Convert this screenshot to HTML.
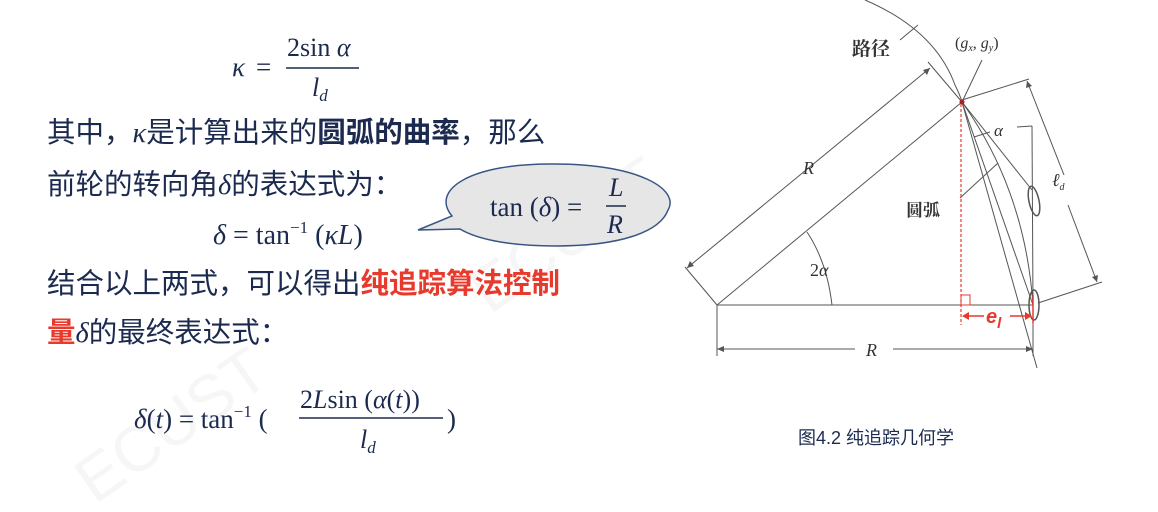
<!DOCTYPE html>
<html><head><meta charset="utf-8"><style>
html,body{margin:0;padding:0;background:#fff;}
svg{display:block;}
.t{font-family:"Liberation Sans","Noto Sans CJK SC",sans-serif;font-size:28.5px;fill:#1b2a4e;}
.m{font-family:"Liberation Serif","DejaVu Serif",serif;fill:#1b2a4e;}
.d{font-family:"Liberation Serif","Noto Serif CJK SC",serif;fill:#333;}
</style></head><body>
<svg width="1158" height="512" viewBox="0 0 1158 512" xmlns="http://www.w3.org/2000/svg">
<text x="0" y="0" transform="translate(95,505) rotate(-35)" font-family="Liberation Sans,sans-serif" font-size="64" fill="#f6f6f6">ECUST</text>
<text x="0" y="0" transform="translate(490,315) rotate(-35)" font-family="Liberation Sans,sans-serif" font-size="64" fill="#f6f6f6">ECUST</text>

<text class="m" x="232" y="76" font-size="27" font-style="italic">κ</text>
<text class="m" x="256" y="76" font-size="27">=</text>
<text class="m" x="287" y="56" font-size="26">2sin <tspan font-style="italic">α</tspan></text>
<line x1="286" y1="68" x2="359" y2="68" stroke="#1b2a4e" stroke-width="1.5"/>
<text class="m" x="312" y="96" font-size="26" font-style="italic">l<tspan font-size="17" dy="5">d</tspan></text>

<text class="t" x="47" y="142">其中，<tspan class="m" font-style="italic">κ</tspan>是计算出来的<tspan font-weight="bold">圆弧的曲率</tspan>，那么</text>
<text class="t" x="47" y="194">前轮的转向角<tspan class="m" font-style="italic">δ</tspan>的表达式为：</text>
<text class="m" x="213" y="244" font-size="28"><tspan font-style="italic">δ</tspan> = tan<tspan font-size="17" dy="-11">−1</tspan><tspan dy="11"> (</tspan><tspan font-style="italic">κL</tspan>)</text>
<text class="t" x="47" y="293">结合以上两式，可以得出<tspan fill="#e8392d" font-weight="bold">纯追踪算法控制</tspan></text>
<text class="t" x="47" y="342"><tspan fill="#e8392d" font-weight="bold">量</tspan><tspan class="m" font-style="italic">δ</tspan>的最终表达式：</text>

<text class="m" x="134" y="428" font-size="27"><tspan font-style="italic">δ</tspan>(<tspan font-style="italic">t</tspan>) = tan<tspan font-size="17" dy="-11">−1</tspan><tspan dy="11">  (</tspan></text>
<text class="m" x="300" y="408" font-size="26">2<tspan font-style="italic">L</tspan>sin (<tspan font-style="italic">α</tspan>(<tspan font-style="italic">t</tspan>))</text>
<line x1="299" y1="418" x2="443" y2="418" stroke="#1b2a4e" stroke-width="1.5"/>
<text class="m" x="360" y="448" font-size="26" font-style="italic">l<tspan font-size="17" dy="5">d</tspan></text>
<text class="m" x="447" y="428" font-size="27">)</text>

<path d="M418,230 L452,216 C430,190 470,163 555,164 C640,164 680,190 668,210 C660,232 620,246 555,246 C505,246 475,238 460,229 Z" fill="#e6e6e6" stroke="#3a5585" stroke-width="1.5"/>
<text class="m" x="490" y="216" font-size="27">tan (<tspan font-style="italic">δ</tspan>) =</text>
<text class="m" x="609" y="196" font-size="26" font-style="italic">L</text>
<line x1="606" y1="206" x2="626" y2="206" stroke="#1b2a4e" stroke-width="1.5"/>
<text class="m" x="607" y="233" font-size="26" font-style="italic">R</text>

<g stroke="#555" stroke-width="1" fill="none">
<path d="M865,0 Q935,30 955,85 Q960,95 962,102"/>
<line x1="717" y1="305" x2="962" y2="102"/>
<line x1="717" y1="305" x2="1033" y2="305"/>
<line x1="717" y1="305" x2="685" y2="267"/>
<line x1="962" y1="102" x2="928" y2="62"/>
<line x1="687" y1="268" x2="930" y2="68"/>
<line x1="962" y1="102" x2="1037" y2="368"/>
<line x1="962" y1="102" x2="1033" y2="305"/>
<path d="M962,102 Q1025,190 1033,305"/>
<line x1="962" y1="102" x2="1032" y2="190"/>
<line x1="717" y1="305" x2="717" y2="356"/>
<line x1="1033" y1="305" x2="1033" y2="356"/>
<line x1="717" y1="349" x2="855" y2="349"/>
<line x1="893" y1="349" x2="1033" y2="349"/>
<line x1="962" y1="100" x2="1029" y2="79"/>
<line x1="1038" y1="303" x2="1102" y2="282"/>
<line x1="1027" y1="81" x2="1064" y2="175"/>
<line x1="1068" y1="205" x2="1097" y2="282"/>
<path d="M807,232 Q827,262 832,305"/>
<line x1="962" y1="102" x2="982" y2="60"/>
<line x1="960" y1="198" x2="998" y2="163"/>
<line x1="974" y1="137" x2="990" y2="132"/>
<line x1="1017" y1="127" x2="1032" y2="126"/>
<line x1="1032" y1="126" x2="1033" y2="305"/>
<line x1="918" y1="25" x2="900" y2="40"/>
<ellipse cx="1034" cy="201" rx="5" ry="15" transform="rotate(-12 1034 201)" stroke-width="1.5"/>
<ellipse cx="1034" cy="305" rx="5" ry="15" stroke-width="1.5"/>
</g>
<g fill="#555">
<polygon points="717,349 724,346 724,352"/>
<polygon points="1033,349 1026,346 1026,352"/>
<polygon points="687,268 690,261 694,266"/>
<polygon points="930,68 923,70 927,75"/>
<polygon points="1097,282 1092,277 1098,275"/>
<polygon points="1027,81 1026,88 1032,86"/>
</g>
<circle cx="962" cy="102" r="2.5" fill="#a22"/>
<line x1="961" y1="104" x2="961" y2="325" stroke="#e8392d" stroke-width="1.2" stroke-dasharray="3,2"/>
<rect x="961" y="295" width="9" height="10" fill="none" stroke="#e8392d" stroke-width="1"/>
<line x1="966" y1="316" x2="984" y2="316" stroke="#e8392d" stroke-width="1.5"/>
<line x1="1010" y1="316" x2="1028" y2="316" stroke="#e8392d" stroke-width="1.5"/>
<polygon points="962,316 969,312 969,320" fill="#e8392d"/>
<polygon points="1032,316 1025,312 1025,320" fill="#e8392d"/>
<line x1="1033" y1="295" x2="1033" y2="323" stroke="#e8392d" stroke-width="1.5"/>
<text x="986" y="323" font-family="Liberation Sans,sans-serif" font-style="italic" font-weight="bold" font-size="20" fill="#e8392d">e<tspan font-size="15" dy="5">l</tspan></text>

<text class="d" x="852" y="55" font-size="19" font-weight="bold">路径</text>
<text class="d" x="955" y="48" font-size="16">(<tspan font-style="italic">g<tspan font-size="10" dy="3">x</tspan></tspan><tspan dy="-3">, </tspan><tspan font-style="italic">g<tspan font-size="10" dy="3">y</tspan></tspan><tspan dy="-3">)</tspan></text>
<text class="d" x="803" y="174" font-size="18" font-style="italic">R</text>
<text class="d" x="906" y="216" font-size="17" font-weight="bold">圆弧</text>
<text class="d" x="994" y="136" font-size="17" font-style="italic">α</text>
<text class="d" x="810" y="276" font-size="18">2<tspan font-style="italic">α</tspan></text>
<text class="d" x="866" y="356" font-size="18" font-style="italic">R</text>
<text class="d" x="1052" y="186" font-size="18" font-style="italic">ℓ<tspan font-size="10" dy="4">d</tspan></text>

<text x="798" y="444" font-family="Liberation Sans,'Noto Sans CJK SC',sans-serif" font-size="18" fill="#1b2a4e">图4.2 纯追踪几何学</text>
</svg>
</body></html>
